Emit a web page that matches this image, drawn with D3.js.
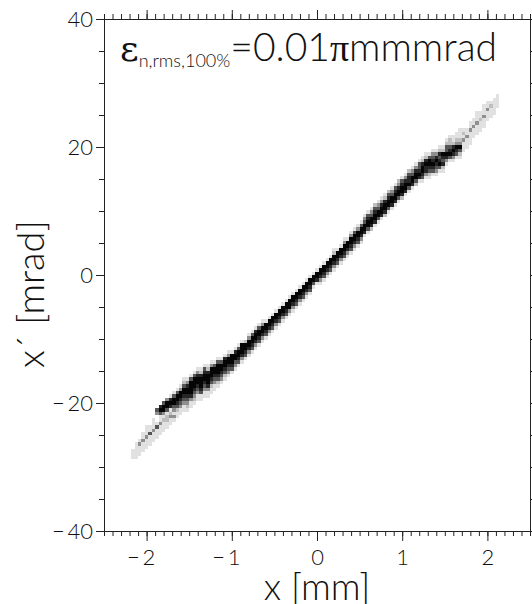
<!DOCTYPE html>
<html>
<head>
<meta charset="utf-8">
<script src="https://cdn.jsdelivr.net/npm/d3@7"></script>
<style>
  body { margin: 0; background: #fff; }
  text { font-family: Lato, "DejaVu Sans", sans-serif; font-weight: 300; fill: #111; }
</style>
</head>
<body>
<script>
// axis ranges and ticks
const xDomain = [-2.5, 2.5];
const yDomain = [-40, 40];
const xMajorTicks = [-2, -1, 0, 1, 2];
const yMajorTicks = [-40, -20, 0, 20, 40];
const xMinorStep = 0.1;
const yMinorStep = 5;

// histogram binning (bins of the 2D phase space plot)
const binX = 0.04;
const binY = 80 / 150;

// one entry per x-bin column: [column index, first row index, gray levels from bottom up]
// levels: 0 empty, 1 lightest ... 6 black
const histColumns = [
    [8, 21, "1110"], [9, 21, "11111"], [10, 22, "11131"], [11, 23, "111311"],
    [12, 24, "1113111"], [13, 25, "111411"], [14, 26, "1113111"], [15, 27, "111410034"],
    [16, 28, "111311465"], [17, 29, "111213664"], [18, 30, "112214663"], [19, 31, "113215651"],
    [20, 32, "131346641"], [21, 33, "112456641"], [22, 34, "113456631"], [23, 35, "1134566421"],
    [24, 35, "1234566531"], [25, 36, "1135666641"], [26, 37, "1234566641"], [27, 38, "1134566531"],
    [28, 38, "1145666521"], [29, 39, "1134566541"], [30, 39, "1135666521"], [31, 40, "1124566631"],
    [32, 41, "113456641"], [33, 42, "124566641"], [34, 43, "13456641"], [35, 44, "12456651"],
    [36, 45, "13456631"], [37, 46, "1456661"], [38, 47, "1346651"], [39, 48, "1456641"],
    [40, 49, "1356661"], [41, 50, "145662"], [42, 51, "1356631"], [43, 52, "1456641"],
    [44, 53, "1356651"], [45, 54, "1456641"], [46, 55, "1356631"], [47, 56, "145661"],
    [48, 57, "135661"], [49, 58, "145661"], [50, 59, "135661"], [51, 60, "145661"],
    [52, 61, "135661"], [53, 62, "145661"], [54, 63, "136661"], [55, 64, "135661"],
    [56, 65, "145661"], [57, 66, "135661"], [58, 67, "145661"], [59, 68, "135661"],
    [60, 69, "145661"], [61, 71, "14661"], [62, 72, "15661"], [63, 72, "135661"],
    [64, 73, "145661"], [65, 74, "135661"], [66, 75, "145661"], [67, 76, "1356621"],
    [68, 77, "145661"], [69, 78, "135661"], [70, 79, "1456631"], [71, 80, "135661"],
    [72, 81, "1456631"], [73, 82, "1356641"], [74, 83, "1456631"], [75, 84, "1356641"],
    [76, 86, "1566431"], [77, 87, "1466541"], [78, 88, "2566431"], [79, 89, "1566542"],
    [80, 90, "1466431"], [81, 91, "1566531"], [82, 92, "2566521"], [83, 93, "1466542"],
    [84, 94, "1566431"], [85, 95, "1566541"], [86, 96, "1466532"], [87, 97, "2566541"],
    [88, 98, "1566531"], [89, 99, "1465542"], [90, 100, "1566431"], [91, 101, "2466531"],
    [92, 102, "1565441"], [93, 102, "14566521"], [94, 103, "13556521"], [95, 103, "12456641"],
    [96, 104, "14565431"], [97, 104, "13456531"], [98, 105, "14654521"], [99, 105, "12545621"],
    [100, 107, "13564421"], [101, 108, "14654221"], [102, 108, "13565211"], [103, 109, "14563211"],
    [104, 109, "124632111"], [105, 111, "1113121"], [106, 112, "111311"], [107, 113, "1111311"],
    [108, 115, "111311"], [109, 116, "1113111"], [110, 117, "111211"], [111, 118, "1113111"],
    [112, 120, "111311"], [113, 121, "11121"], [114, 122, "11111"], [115, 124, "1111"]
];

const grayShades = ["none", "#e1e1e1", "#bebebe", "#8f8f8f", "#555555", "#262626", "#050505"];

const svgWidth = 532;
const svgHeight = 604;
const margin = {top: 19, right: 2, bottom: 73, left: 104};

window.onload = main;

function main() {
    const svg = d3.select("body")
        .append("svg")
        .attr("width", svgWidth)
        .attr("height", svgHeight);

    const x = d3.scaleLinear().domain(xDomain).range([margin.left, svgWidth - margin.right]);
    const y = d3.scaleLinear().domain(yDomain).range([svgHeight - margin.bottom, margin.top]);

    // flatten the column table into cells
    const cells = [];
    histColumns.forEach(([col, row0, levels]) => {
        [...levels].forEach((ch, k) => {
            const lev = +ch;
            if (lev > 0) cells.push({col: col, row: row0 + k, lev: lev});
        });
    });

    svg.append("g")
        .attr("shape-rendering", "crispEdges")
        .selectAll("rect")
        .data(cells)
        .join("rect")
        .attr("x", d => x(xDomain[0] + d.col * binX))
        .attr("y", d => y(yDomain[0] + (d.row + 1) * binY))
        .attr("width", d => x(xDomain[0] + (d.col + 1) * binX) - x(xDomain[0] + d.col * binX))
        .attr("height", d => y(yDomain[0] + d.row * binY) - y(yDomain[0] + (d.row + 1) * binY))
        .attr("fill", d => grayShades[d.lev]);

    const xMinor = d3.range(xDomain[0], xDomain[1] + 1e-9, xMinorStep);
    const yMinor = d3.range(yDomain[0], yDomain[1] + 1e-9, yMinorStep);
    const minus = v => v < 0 ? "\u2212\u2009" + Math.abs(v) : "" + v;

    const yB = svgHeight - margin.bottom;
    const xR = svgWidth - margin.right;

    const styleAxis = g => {
        g.select(".domain").remove();
        g.selectAll("line").attr("stroke", "#222");
        g.selectAll("text").attr("font-size", 22);
    };

    // bottom axis
    svg.append("g").attr("transform", `translate(0,${yB})`)
        .call(d3.axisBottom(x).tickValues(xMinor).tickSize(5).tickFormat(""))
        .call(styleAxis);
    svg.append("g").attr("transform", `translate(0,${yB})`)
        .call(d3.axisBottom(x).tickValues(xMajorTicks).tickSize(10).tickPadding(8).tickFormat(minus))
        .call(styleAxis)
        .selectAll("text").attr("dx", d => d < 0 ? -6 : 0);

    // top axis
    svg.append("g").attr("transform", `translate(0,${margin.top})`)
        .call(d3.axisTop(x).tickValues(xMinor).tickSize(5).tickFormat(""))
        .call(styleAxis);
    svg.append("g").attr("transform", `translate(0,${margin.top})`)
        .call(d3.axisTop(x).tickValues(xMajorTicks).tickSize(9).tickFormat(""))
        .call(styleAxis);

    // left axis
    svg.append("g").attr("transform", `translate(${margin.left},0)`)
        .call(d3.axisLeft(y).tickValues(yMinor).tickSize(5).tickFormat(""))
        .call(styleAxis);
    svg.append("g").attr("transform", `translate(${margin.left},0)`)
        .call(d3.axisLeft(y).tickValues(yMajorTicks).tickSize(8).tickPadding(3).tickFormat(minus))
        .call(styleAxis);

    // right axis
    svg.append("g").attr("transform", `translate(${xR},0)`)
        .call(d3.axisRight(y).tickValues(yMinor).tickSize(5).tickFormat(""))
        .call(styleAxis);

    // frame
    svg.append("rect")
        .attr("x", margin.left).attr("y", margin.top)
        .attr("width", xR - margin.left).attr("height", yB - margin.top)
        .attr("fill", "none").attr("stroke", "#222").attr("shape-rendering", "crispEdges");

    // axis titles
    svg.append("text")
        .attr("x", x(0)).attr("y", 600)
        .attr("text-anchor", "middle")
        .attr("font-size", 37)
        .text("x [mm]");

    svg.append("text")
        .attr("transform", `translate(44,${y(-3)}) rotate(-90)`)
        .attr("text-anchor", "middle")
        .attr("font-size", 38)
        .text("x\u00b4 [mrad]");

    // emittance label
    const lab = svg.append("text").attr("x", 120).attr("y", 61);
    lab.append("tspan").attr("font-family", "'DejaVu Serif', serif").attr("font-weight", 400)
        .attr("font-size", 36).text("\u03b5");
    lab.append("tspan").attr("font-size", 18).attr("dy", 6).text("n,rms,100%");
    lab.append("tspan").attr("font-size", 39).attr("dy", -6).text("=0.01");
    lab.append("tspan").attr("font-family", "'Liberation Serif', serif").attr("font-weight", 400)
        .attr("font-size", 38).text("\u03c0");
    lab.append("tspan").attr("font-size", 39).text("mmmrad");
}
</script>
</body>
</html>
